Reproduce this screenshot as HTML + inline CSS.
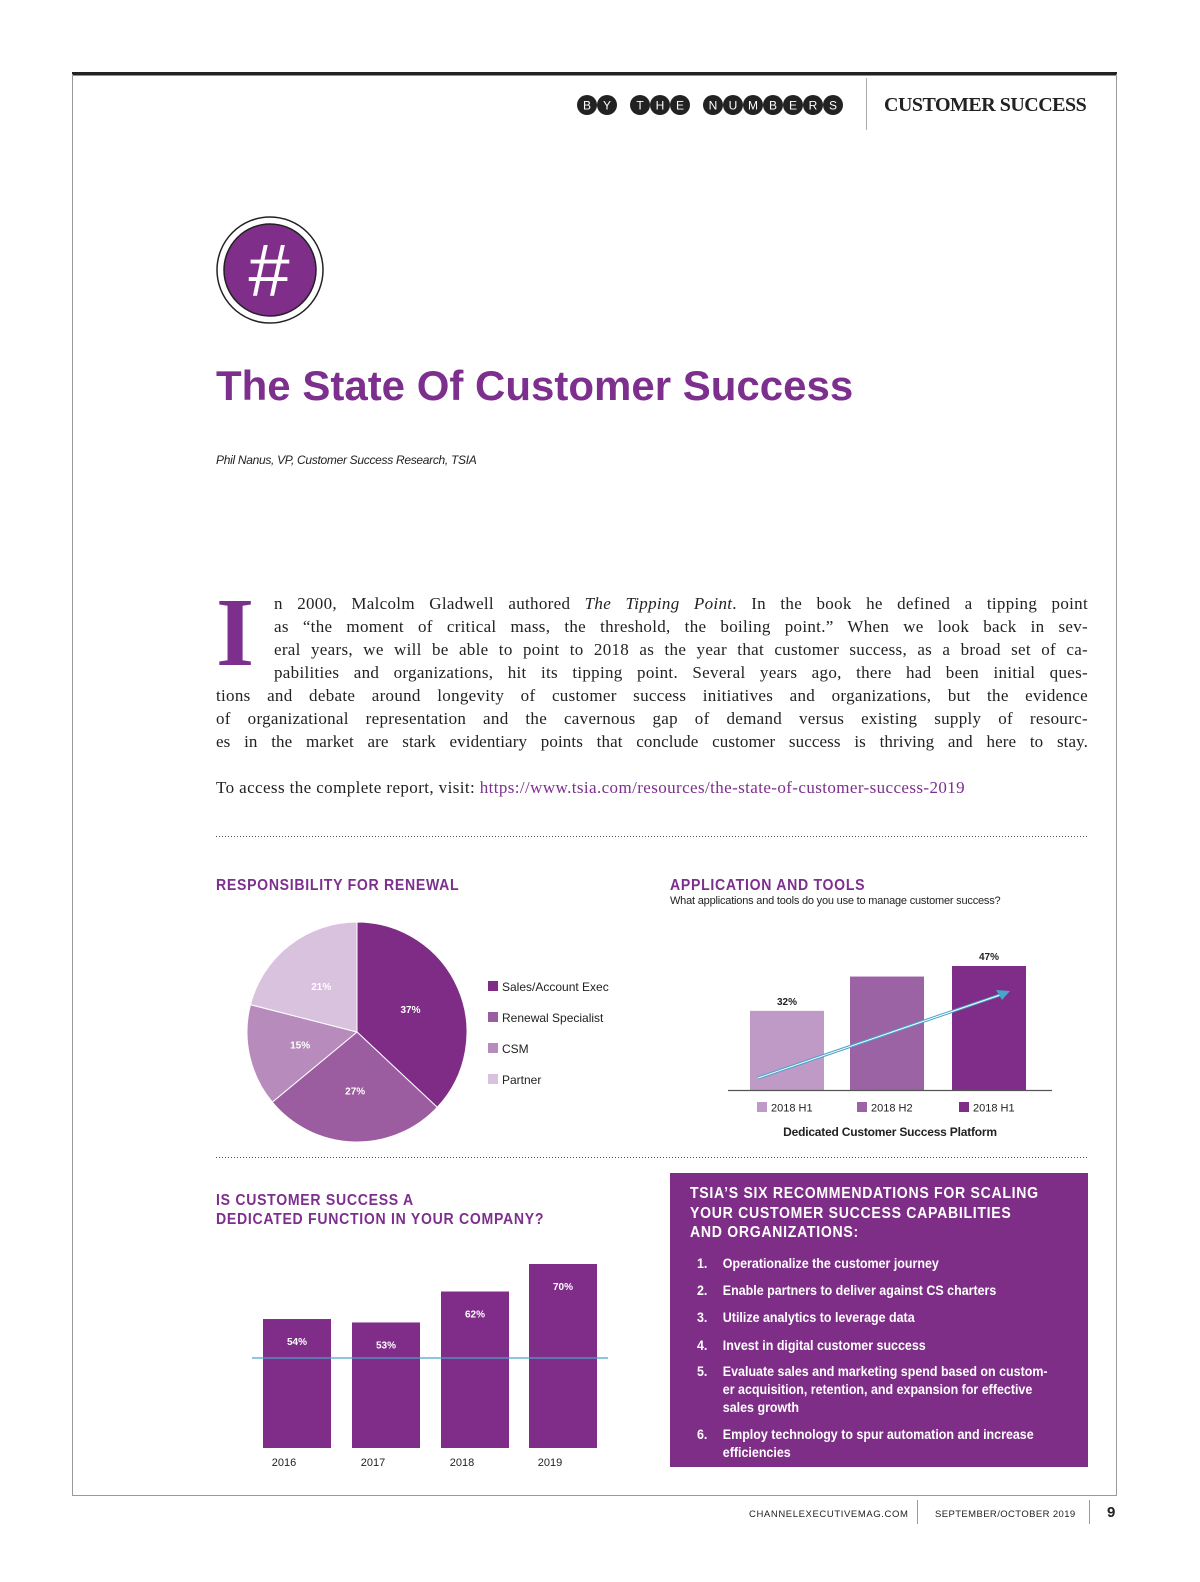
<!DOCTYPE html>
<html><head><meta charset="utf-8"><style>
body{margin:0;background:#fff;}
#page{position:relative;width:1200px;height:1582px;overflow:hidden;font-family:"Liberation Sans",sans-serif;}
.abs{position:absolute;white-space:nowrap;}
.ln{position:absolute;font-family:"Liberation Serif",serif;font-size:17px;letter-spacing:0.3px;text-align:justify;text-align-last:justify;color:#222;white-space:nowrap;height:23px;line-height:23px;}
.hd{position:absolute;font-family:"Liberation Sans",sans-serif;font-weight:bold;color:#7d2f8e;font-size:16px;letter-spacing:0.8px;line-height:19px;transform:scaleX(0.88);transform-origin:0 0;white-space:nowrap;}
.rec{position:absolute;left:697px;color:#fff;font-family:"Liberation Sans",sans-serif;font-weight:bold;font-size:14px;line-height:18px;transform:scaleX(0.89);transform-origin:0 0;white-space:nowrap;}
.rec span{position:absolute;left:0;}
.rec div{margin-left:29px;}
</style></head><body>
<div id="page">
<svg id="svg" width="1200" height="1582" style="position:absolute;left:0;top:0">
 <rect x="72" y="72" width="1045" height="3.5" fill="#222"/>
 <line x1="72.5" y1="74" x2="72.5" y2="1496" stroke="#999"/>
 <line x1="1116.5" y1="74" x2="1116.5" y2="1496" stroke="#999"/>
 <line x1="72" y1="1495.5" x2="1117" y2="1495.5" stroke="#999"/>
 <line x1="866.5" y1="78" x2="866.5" y2="130" stroke="#aaa"/>
 <line x1="917.5" y1="1500" x2="917.5" y2="1524" stroke="#999"/>
 <line x1="1089.5" y1="1500" x2="1089.5" y2="1524" stroke="#999"/>
 <g id="hdr"></g>
 <circle cx="270" cy="270" r="53" fill="#fff" stroke="#222" stroke-width="1.5"/>
 <circle cx="270" cy="270" r="46" fill="#7f2e8a" stroke="#222" stroke-width="1.5"/>
 <text x="268" y="296" font-family="Liberation Sans" font-size="74" fill="#fff" text-anchor="middle" font-style="italic">#</text>
 <line x1="216" y1="836.5" x2="1088" y2="836.5" stroke="#555" stroke-dasharray="1,2"/>
 <line x1="216" y1="1157.5" x2="1088" y2="1157.5" stroke="#555" stroke-dasharray="1,2"/>
 <g id="pie"></g>
 <g id="tools"></g>
 <g id="dedic"></g>
 <rect x="670" y="1173" width="418" height="294" fill="#7f2e88"/>
</svg>

<div class="abs" style="left:884px;top:94px;font-family:'Liberation Serif',serif;font-weight:bold;font-size:20px;letter-spacing:-0.5px;color:#222">CUSTOMER SUCCESS</div>

<div class="abs" style="left:216px;top:362px;font-size:42px;font-weight:bold;color:#7d2f8e;letter-spacing:0px">The State Of Customer Success</div>
<div class="abs" style="left:216px;top:453px;font-size:12px;font-style:italic;color:#222;letter-spacing:-0.3px">Phil Nanus, VP, Customer Success Research, TSIA</div>

<div class="abs" style="left:216px;top:584px;font-family:'Liberation Serif',serif;font-weight:bold;font-size:98px;line-height:98px;color:#7d2f8e">I</div>
<div>
<div class="ln" style="left:274px;top:592px;width:814px">n 2000, Malcolm Gladwell authored <i>The Tipping Point</i>. In the book he defined a tipping point</div>
<div class="ln" style="left:274px;top:615px;width:814px">as “the moment of critical mass, the threshold, the boiling point.” When we look back in sev-</div>
<div class="ln" style="left:274px;top:638px;width:814px">eral years, we will be able to point to 2018 as the year that customer success, as a broad set of ca-</div>
<div class="ln" style="left:274px;top:661px;width:814px">pabilities and organizations, hit its tipping point. Several years ago, there had been initial ques-</div>
<div class="ln" style="left:216px;top:684px;width:872px">tions and debate around longevity of customer success initiatives and organizations, but the evidence</div>
<div class="ln" style="left:216px;top:707px;width:872px">of organizational representation and the cavernous gap of demand versus existing supply of resourc-</div>
<div class="ln" style="left:216px;top:730px;width:872px;letter-spacing:0.1px">es in the market are stark evidentiary points that conclude customer success is thriving and here to stay.</div>
</div>
<div class="abs" style="left:216px;top:776px;font-family:'Liberation Serif',serif;font-size:17px;letter-spacing:0.4px;color:#222;line-height:23px">To access the complete report, visit: <span style="color:#7d2f8e">https://www.tsia.com/resources/the-state-of-customer-success-2019</span></div>

<div class="hd" style="left:216px;top:876px">RESPONSIBILITY FOR RENEWAL</div>
<div class="hd" style="left:670px;top:876px">APPLICATION AND TOOLS</div>
<div class="abs" style="left:670px;top:895px;font-size:11px;color:#222;letter-spacing:-0.2px">What applications and tools do you use to manage customer success?</div>
<div class="hd" style="left:216px;top:1191px">IS CUSTOMER SUCCESS A<br>DEDICATED FUNCTION IN YOUR COMPANY?</div>
<div class="hd" style="left:690px;top:1184px;color:#fff;line-height:19.5px">TSIA’S SIX RECOMMENDATIONS FOR SCALING<br>YOUR CUSTOMER SUCCESS CAPABILITIES<br>AND ORGANIZATIONS:</div>
<div>
<div class="rec" style="top:1254px"><span>1.</span><div>Operationalize the customer journey</div></div>
<div class="rec" style="top:1281px"><span>2.</span><div>Enable partners to deliver against CS charters</div></div>
<div class="rec" style="top:1308px"><span>3.</span><div>Utilize analytics to leverage data</div></div>
<div class="rec" style="top:1336px"><span>4.</span><div>Invest in digital customer success</div></div>
<div class="rec" style="top:1362px"><span>5.</span><div>Evaluate sales and marketing spend based on custom-<br>er acquisition, retention, and expansion for effective<br>sales growth</div></div>
<div class="rec" style="top:1425px"><span>6.</span><div>Employ technology to spur automation and increase<br>efficiencies</div></div>
</div>

<div class="abs" style="left:749px;top:1509px;font-size:9.5px;letter-spacing:0.6px;color:#222">CHANNELEXECUTIVEMAG.COM</div>
<div class="abs" style="left:935px;top:1509px;font-size:9.5px;letter-spacing:0.4px;color:#222">SEPTEMBER/OCTOBER 2019</div>
<div class="abs" style="left:1107px;top:1504px;font-size:15px;font-weight:bold;color:#222">9</div>
</div>

<script>
const NS="http://www.w3.org/2000/svg";
function mk(parent,tag,attrs,text){const e=document.createElementNS(NS,tag);for(const k in attrs)e.setAttribute(k,attrs[k]);if(text!==undefined)e.textContent=text;parent.appendChild(e);return e;}

// header letters
const hdrLetters=["B","Y","T","H","E","N","U","M","B","E","R","S"];
const hdrCx=[587,607,640,660,680,713,733,753,773,793,813,833];
const hdr=document.getElementById("hdr");
hdrLetters.forEach((l,i)=>{
 const c=mk(hdr,"circle",{cx:hdrCx[i],cy:105,r:10,fill:"#222"});
 
 
 const t=mk(hdr,"text",{x:hdrCx[i],y:109.5,"text-anchor":"middle","font-size":12,"font-family":"Liberation Sans",fill:"#fff"},l);
 
 
});

// Pie chart
const pieCategories=["Sales/Account Exec","Renewal Specialist","CSM","Partner"];
const pieValues=[37,27,15,21];
const pieColors=["#7f2c87","#9b5ca0","#b78cbd","#d9c2de"];
const pie=document.getElementById("pie");
const pcx=357,pcy=1032,pr=110;
const total=pieValues.reduce((a,b)=>a+b,0);
let acc=0;
function pt(frac,r){const a=frac*2*Math.PI;return [pcx+r*Math.sin(a),pcy-r*Math.cos(a)];}
pieValues.forEach((v,i)=>{
 const f0=acc/total,f1=(acc+v)/total;acc+=v;
 const [x0,y0]=pt(f0,pr),[x1,y1]=pt(f1,pr);
 const large=(f1-f0)>0.5?1:0;
 const p=mk(pie,"path",{d:`M${pcx},${pcy} L${x0},${y0} A${pr},${pr} 0 ${large} 1 ${x1},${y1} Z`,fill:pieColors[i],stroke:"#fff","stroke-width":1});
 
 
 const [lx,ly]=pt((f0+f1)/2,pr*0.53);
 const t=mk(pie,"text",{x:lx,y:ly+4,"text-anchor":"middle","font-size":10,"font-weight":"bold","font-family":"Liberation Sans",fill:"#fff"},v+"%");
 
 
 const sq=mk(pie,"rect",{x:488,y:981+i*31,width:10,height:10,fill:pieColors[i]});
 
 
 const lt=mk(pie,"text",{x:502,y:991+i*31,"font-size":12,"font-family":"Liberation Sans",fill:"#222"},pieCategories[i]);
 
 
});

// Tools bar chart
const toolCategories=["2018 H1","2018 H2","2018 H1"];
const toolValues=[30,43,47];
const toolLabels=["32%","","47%"];
const toolColors=["#c09ac7","#9b63a3","#7f2d88"];
const tools=document.getElementById("tools");
const tBase=1090,tScale=124/47,tX=[750,850,952],tW=74;
function ty(v){return tBase-v*tScale;}
toolValues.forEach((v,i)=>{
 const r=mk(tools,"rect",{x:tX[i],y:ty(v),width:tW,height:tBase-ty(v),fill:toolColors[i]});
 
 
 if(toolLabels[i]){const t=mk(tools,"text",{x:tX[i]+tW/2,y:ty(v)-6,"text-anchor":"middle","font-size":10,"font-weight":"bold","font-family":"Liberation Sans",fill:"#222"},toolLabels[i]);
 
 }
 const sq=mk(tools,"rect",{x:tX[i]+7,y:1102,width:10,height:10,fill:toolColors[i]});
 
 
 const lt=mk(tools,"text",{x:tX[i]+21,y:1111.5,"font-size":11,"font-family":"Liberation Sans",fill:"#222"},toolCategories[i]);
 
 
});
const ax=mk(tools,"line",{x1:728,y1:tBase+0.5,x2:1052,y2:tBase+0.5,stroke:"#555","stroke-width":1.2});


const ar1=mk(tools,"line",{x1:758,y1:1078,x2:1000,y2:995,stroke:"#4aa3c8","stroke-width":3});


mk(tools,"line",{x1:758,y1:1078,x2:1000,y2:995,stroke:"#fff","stroke-width":1});
const ah=mk(tools,"path",{d:"M1010,991 L996,990 L1002,1000 Z",fill:"#4aa3c8"});


const st=mk(tools,"text",{x:890,y:1136,"text-anchor":"middle","font-size":12,"font-weight":"bold","font-family":"Liberation Sans",fill:"#222","letter-spacing":"-0.2"},"Dedicated Customer Success Platform");



// Dedicated function bar chart
const dedYears=["2016","2017","2018","2019"];
const dedValues=[54,53,62,70];
const dedLabels=["54%","53%","62%","70%"];
const ded=document.getElementById("dedic");
const dBase=1448,dMin=16.5,dScale=184/(70-16.5),dX=[263,352,441,529],dW=68;
function dy(v){return dBase-(v-dMin)*dScale;}
dedValues.forEach((v,i)=>{
 const r=mk(ded,"rect",{x:dX[i],y:dy(v),width:dW,height:dBase-dy(v),fill:"#7f2d88"});
 
 
 const t=mk(ded,"text",{x:dX[i]+dW/2,y:dy(v)+26,"text-anchor":"middle","font-size":10,"font-weight":"bold","font-family":"Liberation Sans",fill:"#fff"},dedLabels[i]);
 
 
 const yl=mk(ded,"text",{x:dX[i]+21,y:1466,"text-anchor":"middle","font-size":11,"font-family":"Liberation Sans",fill:"#222"},dedYears[i]);
 
 
});
const rl=mk(ded,"line",{x1:252,y1:1358,x2:608,y2:1358,stroke:"#4aa3c8","stroke-width":1.3});


</script>
</body></html>
